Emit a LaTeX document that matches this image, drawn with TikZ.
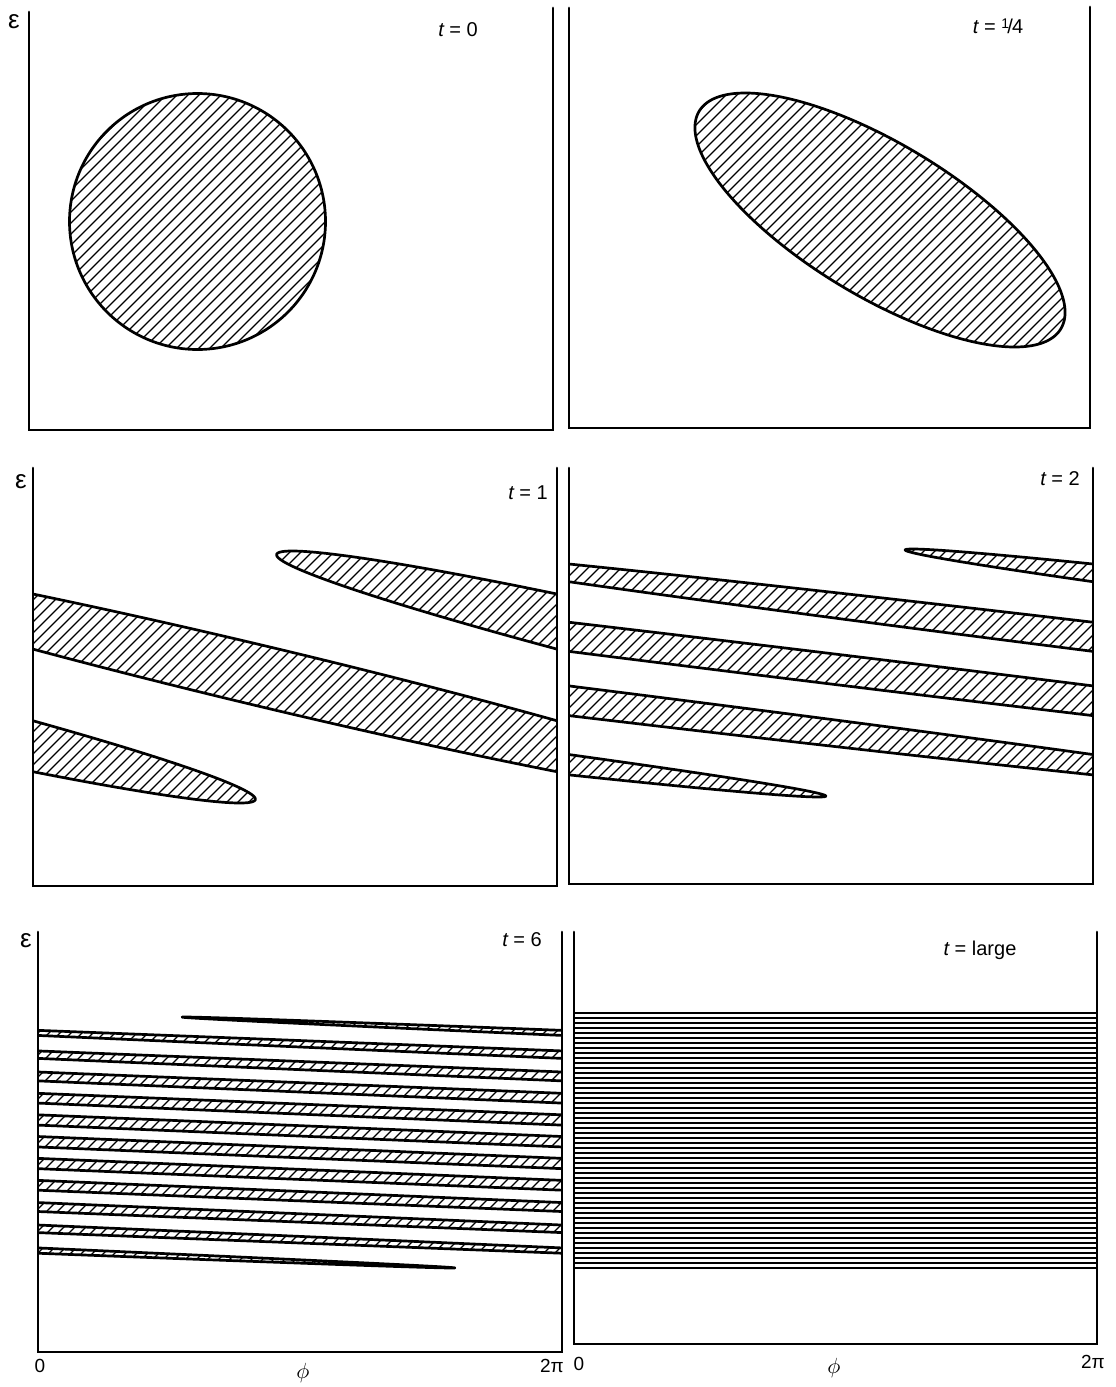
\documentclass[tikz,border=0pt]{standalone}
\usepackage{fontspec}
\setmainfont{Liberation Sans}
\tikzset{
  frame/.style={line width=1.35pt, line cap=round, line join=miter},
  outline/.style={line width=1.35pt, line join=round},
  hatchline/.style={line width=0.6pt},
  stripe/.style={line width=0.85pt},
  tlbl/.style={inner sep=0pt, font=\fontsize{10}{11}\selectfont},
  elbl/.style={inner sep=0pt, font=\fontsize{13}{14}\selectfont},
  axlbl/.style={inner sep=0pt, font=\fontsize{9.5}{10}\selectfont},
  philbl/.style={inner sep=0pt, font=\fontsize{11}{12}\selectfont}
}
% #1 L, #2 R, #3 T, #4 B, #5 xc, #6 yc, #7 r, #8 shear s, #9 list of wraps
\newcommand{\drawband}[9]{%
  \begin{scope}
    \clip (#1,#3) rectangle (#2,#4);
    \begin{scope}
      \clip \foreach \k in {#9} {
        plot[domain=0:360,samples=720] ({#5 - \k*(#2-#1) + #7*cos(\x) + #8*#7*sin(\x)},{#6 + #7*sin(\x)}) -- cycle };
      \foreach \h in {-440,-429,...,540} \draw[hatchline] ({#1+\h},#4) -- ++(500,-500);
    \end{scope}
    \draw[outline] \foreach \k in {#9} {
        plot[domain=0:360,samples=720] ({#5 - \k*(#2-#1) + #7*cos(\x) + #8*#7*sin(\x)},{#6 + #7*sin(\x)}) -- cycle };
  \end{scope}}
\begin{document}
\begin{tikzpicture}[x=0.5pt,y=-0.5pt]
\useasboundingbox (0,0) rectangle (1115,1387);
\fill[white] (0,0) rectangle (1115,1387);

% ---------- shapes ----------
% t = 0
\drawband{29}{553}{10}{430}{197.5}{221.5}{128}{0}{0}
% t = 1/4
\drawband{569}{1090}{8}{428}{880}{220}{127}{1.06}{0}
% t = 1
\drawband{33}{557}{468}{886}{790}{677}{126}{3.95}{0,1,2}
% t = 2
\drawband{569}{1093}{468}{884}{1913.5}{673}{124}{8.07}{0,1,2,3,4}
% t = 6
\drawband{38}{562}{932}{1352}{3200.5}{1142.5}{125.5}{24.03}{0,1,2,3,4,5,6,7,8,9,10,11}
% t = large
\foreach \i in {0,...,51} \draw[stripe] (574,{1013+\i*5}) -- (1097,{1013+\i*5});

% ---------- frames ----------
\draw[frame] (29,12) -- (29,430) -- (553,430) -- (553,8);
\draw[frame] (569,8) -- (569,428) -- (1090,428) -- (1090,7);
\draw[frame] (33,468) -- (33,886) -- (557,886) -- (557,468);
\draw[frame] (569,468) -- (569,884) -- (1093,884) -- (1093,468);
\draw[frame] (38,932) -- (38,1352) -- (562,1352) -- (562,932);
\draw[frame] (574,932) -- (574,1344) -- (1097,1344) -- (1097,932);

% ---------- labels ----------
\node[elbl] (e1) at (14,22) {ε};
\node[elbl] (e2) at (21,482) {ε};
\node[elbl] (e3) at (26,941) {ε};

\node[tlbl] (t0) at (458,30) {{\itshape t} = 0};
\node[tlbl] (t14) at (998,26) {{\itshape t} = \raisebox{0.45ex}{\fontsize{7}{7}\selectfont 1}\kern-0.08em/\kern-0.05em4};
\node[tlbl] (t1) at (528,493) {{\itshape t} = 1};
\node[tlbl] (t2) at (1060,479) {{\itshape t} = 2};
\node[tlbl] (t6) at (522,940) {{\itshape t} = 6};
\node[tlbl] (tl) at (980,950) {{\itshape t} = large};

\node[axlbl] (z1) at (40,1366) {0};
\node[axlbl] (p1) at (552,1366) {2π};
\node[axlbl] (z2) at (579,1364) {0};
\node[axlbl] (p2) at (1093,1362) {2π};
\node[philbl] (f1) at (303,1373) {$\phi$};
\node[philbl] (f2) at (834,1368) {$\phi$};
\end{tikzpicture}
\end{document}
